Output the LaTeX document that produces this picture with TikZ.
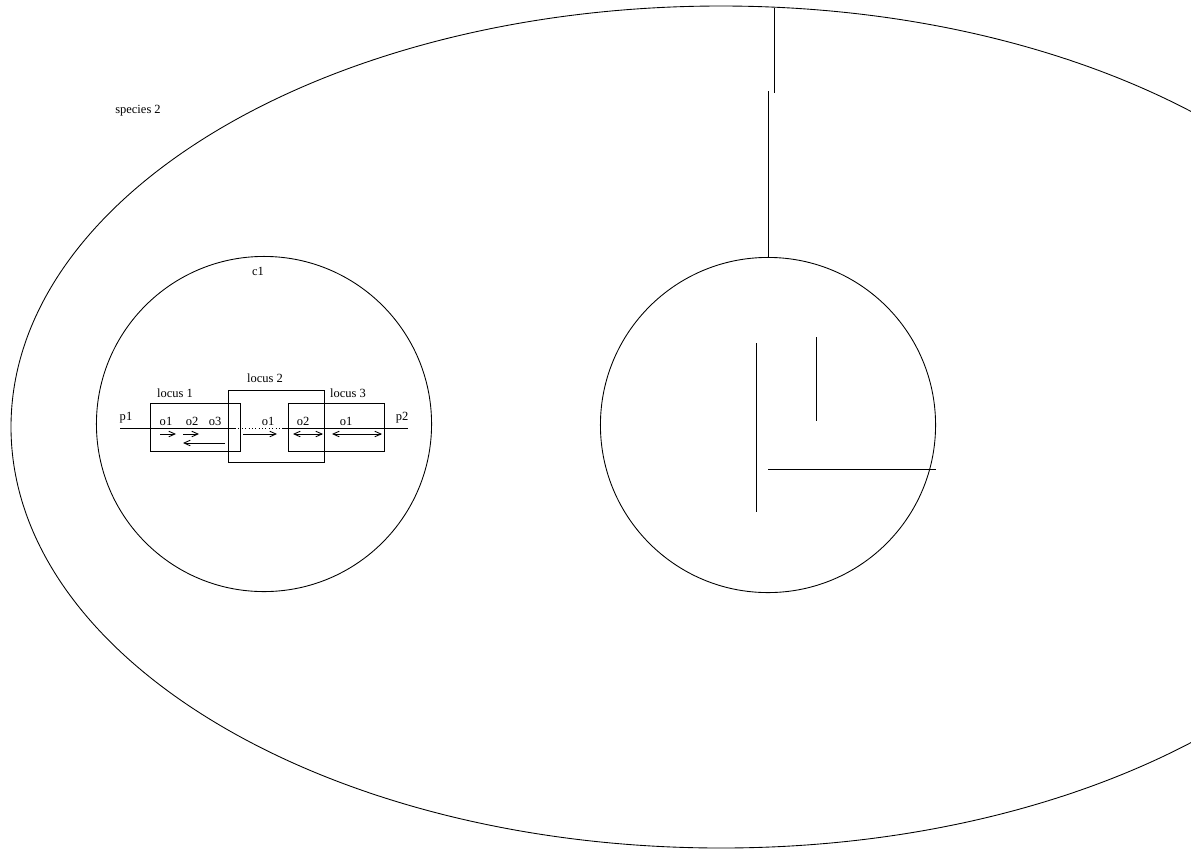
\documentclass[tikz,border=0pt]{standalone}
\usepackage{fontspec}
\setmainfont{Liberation Serif}
\usetikzlibrary{arrows.meta}
\begin{document}
\begin{tikzpicture}[x=0.0281cm,y=-0.0281cm, line width=0.7pt,
    >={Straight Barb[length=5pt, width=4.5pt]},
    lbl/.style={inner sep=0pt, font=\normalsize},
    cell/.style={draw, circle, inner sep=0pt, outer sep=0pt, minimum size=9.42cm},
    locus/.style={draw, rectangle, inner sep=0pt, outer sep=0pt, minimum width=2.7cm, minimum height=1.35cm}]
    \clip (0,0) rectangle (1191,852);
    \draw (721,427) ellipse [x radius=710, y radius=421];
    \node[lbl] (sp) at (138,111) {species 2};
    \node[cell] (c1) at (264,424) {};
    \node[cell] (c2) at (768,425) {};
    \node[lbl] (c1lbl) at (258,271) {c1};
    \coordinate (linkA) at (768,91);
    \coordinate (topA) at (774,8);
    \coordinate (topB) at (774,93);
    \draw (c2.north) -- (linkA);
    \draw (topA) -- (topB);
    \draw (756,343) -- (756,512);
    \draw (816,337) -- (816,421);
    \draw (768,469) -- (c2.east |- 0,469);
    \node[locus, minimum width=2.53cm] (loc1) at (195,427) {};
    \node[locus, minimum height=2.0cm] (loc2) at (276,426.5) {};
    \node[locus] (loc3) at (336,427) {};
    \node[lbl] (loc1lbl) at (175,393) {locus 1};
    \node[lbl] (loc2lbl) at (265,378) {locus 2};
    \node[lbl] (loc3lbl) at (348,393) {locus 3};
    \node[lbl] (p1) at (126,418) {p1};
    \node[lbl] (p2) at (402,418) {p2};
    \coordinate (chrA) at (120,428);
    \coordinate (chrB) at (408,428);
    \coordinate (gapA) at (235,428);
    \coordinate (gapB) at (283,428);
    \draw (chrA) -- (gapA);
    \draw[dotted] (gapA) -- (gapB);
    \draw (gapB) -- (chrB);
    \node[lbl] (o1a) at (166,421) {o1};
    \node[lbl] (o2a) at (192,421) {o2};
    \node[lbl] (o3a) at (215,421) {o3};
    \node[lbl] (o1b) at (268,421) {o1};
    \node[lbl] (o2c) at (303,421) {o2};
    \node[lbl] (o1c) at (346,421) {o1};
    \draw[->] (160,434) -- (176,434);
    \draw[->] (183,434) -- (199,434);
    \draw[->] (225,443) -- (183,443);
    \draw[->] (243,434) -- (277,434);
    \draw[<->] (293,434) -- (323,434);
    \draw[<->] (332,434) -- (382,434);
\end{tikzpicture}
\end{document}
